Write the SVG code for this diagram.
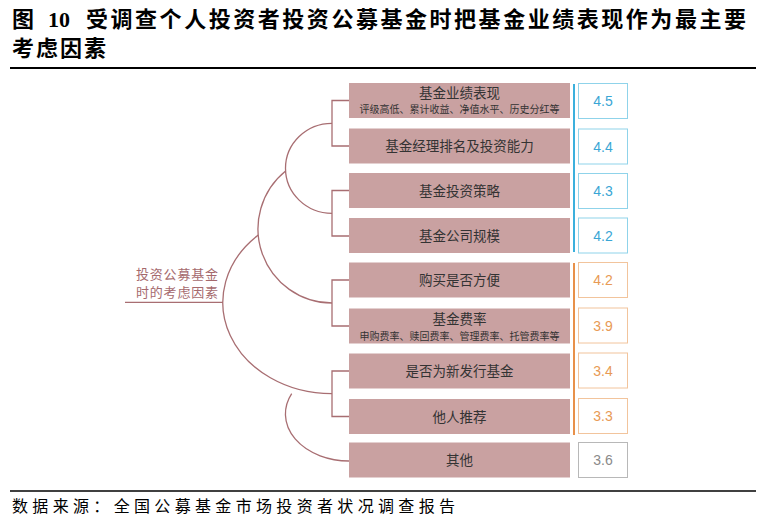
<svg xmlns="http://www.w3.org/2000/svg" width="765" height="521" viewBox="0 0 765 521">
<style>
.title{font-family:"Noto Sans CJK SC","Liberation Sans",sans-serif;font-weight:bold;font-size:22px;fill:#000}
.num10{font-family:"Liberation Serif",serif;font-weight:bold;font-size:22px;fill:#000}
.foot{font-family:"Noto Sans CJK SC","Liberation Sans",sans-serif;font-size:16px;fill:#000}
.box{fill:#c9a1a1}
.lbl{font-family:"Noto Sans CJK SC","Liberation Sans",sans-serif;font-size:13.5px;fill:#333;text-anchor:middle}
.sub{font-family:"Noto Sans CJK SC","Liberation Sans",sans-serif;font-size:10px;fill:#333;text-anchor:middle}
.root{font-family:"Noto Sans CJK SC","Liberation Sans",sans-serif;font-size:13px;fill:#a5696d;text-anchor:middle}
.conn{fill:none;stroke:#a86e72;stroke-width:1.3}
.sb{fill:#fff;stroke:#8fd3ea;stroke-width:1}
.so{fill:#fff;stroke:#f2c49c;stroke-width:1}
.sg{fill:#fff;stroke:#b8b8b8;stroke-width:1}
.nb{font-family:"Liberation Sans",Arial,sans-serif;font-size:14px;fill:#3aa6d5;text-anchor:middle}
.no{font-family:"Liberation Sans",Arial,sans-serif;font-size:14px;fill:#e89a55;text-anchor:middle}
.ng{font-family:"Liberation Sans",Arial,sans-serif;font-size:14px;fill:#8a8a8a;text-anchor:middle}
</style>
<rect width="765" height="521" fill="#fff"/>
<g id="title">
<text class="title" x="12" y="27">图</text>
<text class="num10" x="48" y="27">10</text>
<text class="title" x="86" y="27" textLength="660" lengthAdjust="spacing">受调查个人投资者投资公募基金时把基金业绩表现作为最主要</text>
<text class="title" x="12" y="56" textLength="94" lengthAdjust="spacing">考虑因素</text>
<line x1="10" y1="68" x2="756" y2="68" stroke="#000" stroke-width="2"/>
</g>
<g id="connectors">
<path class="conn" d="M125,302.4 H223"/>
<path class="conn" d="M332,123.3 A46.5,45 0 0 0 332,213.3"/>
<path class="conn" d="M285.6,171 A74,74.2 0 0 0 332,303"/>
<path class="conn" d="M258.3,235 A109,91.3 0 0 0 332,393.7"/>
<path class="conn" d="M291.7,393.7 A64,47 0 0 0 349,461"/>
<path class="conn" d="M349,100.5 H332 V146 H349"/>
<path class="conn" d="M349,190.5 H332 V236 H349"/>
<path class="conn" d="M349,280 H332 V326 H349"/>
<path class="conn" d="M349,371 H332 V416.5 H349"/>
</g>
<g id="root">
<text class="root" x="177" y="279" textLength="82" lengthAdjust="spacing">投资公募基金</text>
<text class="root" x="177" y="297" textLength="82" lengthAdjust="spacing">时的考虑因素</text>
</g>
<g id="n1"><rect class="box" x="349" y="83" width="221" height="35"/><text class="lbl" x="459.5" y="97.5">基金业绩表现</text><text class="sub" x="459.5" y="113">评级高低、累计收益、净值水平、历史分红等</text></g>
<g id="n2"><rect class="box" x="349" y="128.5" width="221" height="35"/><text class="lbl" x="459.5" y="151">基金经理排名及投资能力</text></g>
<g id="n3"><rect class="box" x="349" y="173" width="221" height="35"/><text class="lbl" x="459.5" y="195.5">基金投资策略</text></g>
<g id="n4"><rect class="box" x="349" y="218" width="221" height="35"/><text class="lbl" x="459.5" y="240.5">基金公司规模</text></g>
<g id="n5"><rect class="box" x="349" y="262.5" width="221" height="35"/><text class="lbl" x="459.5" y="285">购买是否方便</text></g>
<g id="n6"><rect class="box" x="349" y="308.5" width="221" height="35"/><text class="lbl" x="459.5" y="323.5">基金费率</text><text class="sub" x="459.5" y="340">申购费率、赎回费率、管理费率、托管费率等</text></g>
<g id="n7"><rect class="box" x="349" y="353.5" width="221" height="35"/><text class="lbl" x="459.5" y="376">是否为新发行基金</text></g>
<g id="n8"><rect class="box" x="349" y="399" width="221" height="35"/><text class="lbl" x="459.5" y="421.5">他人推荐</text></g>
<g id="n9"><rect class="box" x="349" y="442.5" width="221" height="35"/><text class="lbl" x="459.5" y="465">其他</text></g>
<g id="scores">
<line x1="574" y1="84" x2="574" y2="252" stroke="#3bb0dd" stroke-width="2"/>
<line x1="574" y1="263" x2="574" y2="435" stroke="#e8914a" stroke-width="2"/>
<rect class="sb" x="578.5" y="83.5" width="49" height="35"/><text class="nb" x="603" y="106">4.5</text>
<rect class="sb" x="578.5" y="129" width="49" height="35"/><text class="nb" x="603" y="151.5">4.4</text>
<rect class="sb" x="578.5" y="173.5" width="49" height="35"/><text class="nb" x="603" y="196">4.3</text>
<rect class="sb" x="578.5" y="218" width="49" height="35"/><text class="nb" x="603" y="240.5">4.2</text>
<rect class="so" x="578.5" y="262.5" width="49" height="35"/><text class="no" x="603" y="285">4.2</text>
<rect class="so" x="578.5" y="308" width="49" height="35"/><text class="no" x="603" y="330.5">3.9</text>
<rect class="so" x="578.5" y="353" width="49" height="35"/><text class="no" x="603" y="375.5">3.4</text>
<rect class="so" x="578.5" y="398.5" width="49" height="35"/><text class="no" x="603" y="421">3.3</text>
<rect class="sg" x="578.5" y="442.5" width="49" height="35"/><text class="ng" x="603" y="465">3.6</text>
</g>
<g id="footer">
<line x1="10" y1="491" x2="756" y2="491" stroke="#000" stroke-width="1.5"/>
<text class="foot" x="12" y="512" textLength="443" lengthAdjust="spacing">数据来源：全国公募基金市场投资者状况调查报告</text>
</g>
</svg>
